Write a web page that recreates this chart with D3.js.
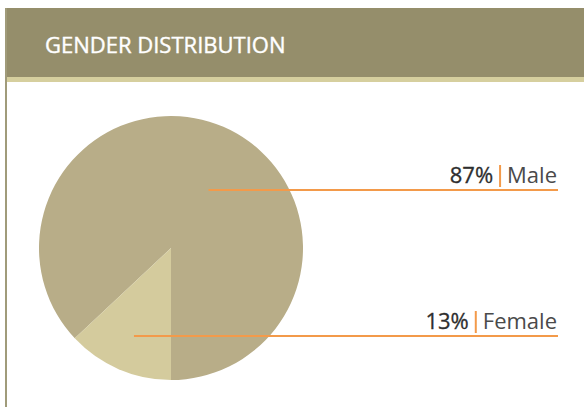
<!DOCTYPE html>
<html>
<head>
<meta charset="utf-8">
<script src="https://cdn.jsdelivr.net/npm/d3@7"></script>
<style>
  html, body { margin: 0; padding: 0; background: #fff; }
  svg { display: block; font-family: "Open Sans", "Noto Sans", sans-serif; }
</style>
</head>
<body>
<svg id="chart" width="584" height="407"></svg>
<script>
var title = "GENDER DISTRIBUTION";
var categories = ["Male", "Female"];
var percents = [87, 13];

var svgWidth = 584, svgHeight = 407;
var cx = 171, cy = 248, radius = 132;
var colors = ["#b8ad88", "#d4cb9d"];
// where each leader line starts: share of the slice angle, share of radius
var leaderAngle = [0.53, 0.49];
var leaderRadius = [0.525, 0.72];
var labelRight = 557, lineRight = 558;

var svg = d3.select("#chart");

// panel frame
svg.append("rect")
    .attr("x", 5).attr("y", 8)
    .attr("width", svgWidth - 5).attr("height", 69)
    .attr("fill", "#958e6b");
svg.append("rect")
    .attr("x", 5).attr("y", 77)
    .attr("width", svgWidth - 5).attr("height", 5)
    .attr("fill", "#d6cf9e");
svg.append("rect")
    .attr("x", 5).attr("y", 8)
    .attr("width", 2).attr("height", svgHeight - 8)
    .attr("fill", "#a09b7a");

svg.append("text")
    .attr("x", 45).attr("y", 53)
    .attr("fill", "#fff")
    .attr("stroke", "#fff")
    .attr("stroke-width", 0.4)
    .style("font-size", "22px")
    .text(title);

var data = categories.map(function (c, i) {
    return { name: c, value: percents[i] };
});

var a0 = Math.PI - 2 * Math.PI * percents[0] / 100;
var pie = d3.pie()
    .sort(null)
    .value(function (d) { return d.value; })
    .startAngle(a0)
    .endAngle(a0 + 2 * Math.PI);

var arc = d3.arc().innerRadius(0).outerRadius(radius);

var g = svg.append("g").attr("transform", `translate(${cx}, ${cy})`);
var arcs = pie(data);

g.selectAll("path.slice")
    .data(arcs)
    .enter().append("path")
    .attr("class", "slice")
    .attr("d", arc)
    .attr("fill", function (d, i) { return colors[i]; });

arcs.forEach(function (d, i) {
    var ang = d.startAngle + (d.endAngle - d.startAngle) * leaderAngle[i];
    var r = radius * leaderRadius[i];
    var px = cx + r * Math.sin(ang);
    var py = Math.round(cy - r * Math.cos(ang));

    svg.append("line")
        .attr("x1", px).attr("x2", lineRight)
        .attr("y1", py).attr("y2", py)
        .attr("stroke", "#f39a4a")
        .attr("stroke-width", 2);

    var base = py - 7;
    var name = svg.append("text")
        .attr("x", labelRight).attr("y", base)
        .attr("text-anchor", "end")
        .attr("fill", "#4a4a4a")
        .style("font-size", "22px")
        .text(d.data.name);
    var w = name.node().getComputedTextLength();
    var barX = labelRight - w - 7;

    svg.append("line")
        .attr("x1", barX).attr("x2", barX)
        .attr("y1", base - 18).attr("y2", base + 4)
        .attr("stroke", "#f39a4a")
        .attr("stroke-width", 2);

    svg.append("text")
        .attr("x", barX - 7).attr("y", base)
        .attr("text-anchor", "end")
        .attr("fill", "#2e2e2e")
        .attr("stroke", "#2e2e2e")
        .attr("stroke-width", 0.3)
        .style("font-size", "22px")
        .text(d.data.value + "%");
});
</script>
</body>
</html>
